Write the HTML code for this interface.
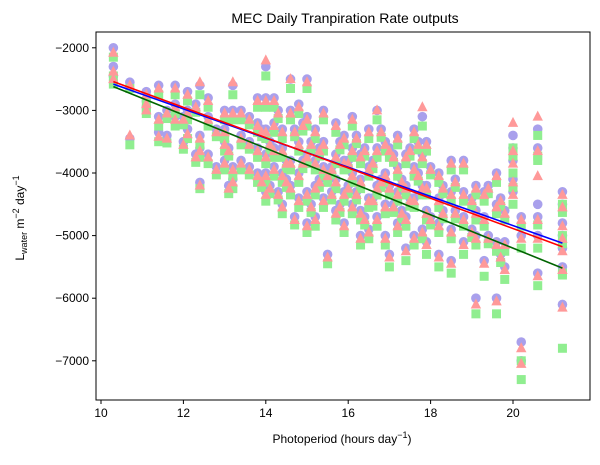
<!DOCTYPE html>
<html><head><meta charset="utf-8"><style>
body{margin:0;background:#fff;font-family:"Liberation Sans","DejaVu Sans",sans-serif}
svg text{font-family:"Liberation Sans","DejaVu Sans",sans-serif}
</style></head><body>
<svg id="chart" width="600" height="460" xmlns="http://www.w3.org/2000/svg">
<text x="345" y="23" font-size="14" text-anchor="middle">MEC Daily Tranpiration Rate outputs</text>
<text x="342" y="443" font-size="12" text-anchor="middle">Photoperiod (hours day<tspan dy="-5" font-size="9">−1</tspan><tspan dy="5">)</tspan></text>
<text transform="translate(24,218) rotate(-90)" font-size="12" text-anchor="middle">L<tspan dy="3" font-size="9">water</tspan><tspan dy="-3"> m</tspan><tspan dy="-5" font-size="9">−2</tspan><tspan dy="5"> day</tspan><tspan dy="-5" font-size="9">−1</tspan></text>
<g id="marks"></g>
<g id="axes"></g>
</svg>
<script>
const xVals=[10.3,10.3,10.7,10.7,11.1,11.1,11.4,11.4,11.4,11.8,11.8,11.8,12.1,12.1,12.1,12.4,12.4,12.4,12.4,12.6,12.6,12.6,13.0,13.0,13.0,13.0,13.2,13.2,13.2,13.2,13.4,13.4,13.4,13.8,13.8,13.8,13.8,14.0,14.0,14.0,14.0,14.0,14.0,14.2,14.2,14.2,14.2,14.4,14.4,14.4,14.4,14.6,14.6,14.6,14.6,14.8,14.8,14.8,14.8,15.0,15.0,15.0,15.0,15.0,15.2,15.2,15.2,15.2,15.4,15.4,15.4,15.4,15.5,15.5,15.7,15.7,15.7,15.7,15.9,15.9,15.9,15.9,16.1,16.1,16.1,16.1,16.3,16.3,16.3,16.3,16.5,16.5,16.5,16.5,16.7,16.7,16.7,16.7,16.9,16.9,16.9,16.9,17.0,17.0,17.0,17.2,17.2,17.2,17.2,17.4,17.4,17.4,17.4,17.6,17.6,17.6,17.6,17.8,17.8,17.8,17.8,17.9,17.9,17.9,17.9,18.2,18.2,18.2,18.2,18.5,18.5,18.5,18.5,18.8,18.8,18.8,18.8,19.1,19.1,19.1,19.1,19.3,19.3,19.3,19.6,19.6,19.6,19.6,19.8,19.8,19.8,20.0,20.0,20.0,20.2,20.2,20.2,20.2,20.6,20.6,20.6,20.6,21.2,21.2,21.2,21.2,
10.3,11.1,11.6,11.6,12.0,12.0,12.3,12.3,12.8,12.8,13.1,13.1,13.6,13.6,13.6,13.9,13.9,14.1,14.1,14.3,14.3,14.5,14.5,14.7,14.7,14.9,14.9,15.1,15.1,15.3,15.3,15.6,15.6,15.8,15.8,16.0,16.0,16.2,16.2,16.4,16.4,16.6,16.6,16.8,16.8,17.1,17.1,17.3,17.3,17.5,17.5,17.7,17.7,18.0,18.0,18.3,18.3,18.6,18.6,19.0,19.0,19.4,19.4,19.7,19.7,20.0,20.0,20.6,20.6,21.2,21.2,21.2];
const circleY=[-2000,-2300,-3450,-2550,-2700,-2950,-2600,-3100,-3350,-2600,-2900,-3100,-2700,-3000,-3300,-2600,-3400,-4150,-3600,-2800,-3100,-3700,-3000,-3300,-3500,-3800,-2600,-3000,-3900,-4100,-3000,-3400,-3800,-2800,-3200,-3600,-4000,-2300,-2800,-3300,-3700,-4000,-4300,-2800,-3200,-3600,-3900,-3300,-3600,-4000,-4500,-2500,-3000,-3800,-4200,-2900,-3500,-4000,-4400,-2500,-3100,-3700,-4300,-4800,-3300,-3800,-4200,-4700,-3000,-3500,-3900,-4400,-4000,-5300,-3200,-3700,-4100,-4600,-3400,-3800,-4300,-4800,-3100,-3600,-4000,-4500,-3700,-4100,-4600,-5000,-3300,-3900,-4400,-4900,-3000,-3600,-4200,-4700,-3500,-4000,-4500,-5000,-3600,-4200,-5300,-3400,-3900,-4300,-4800,-3700,-4200,-4700,-5200,-3300,-3900,-4400,-5000,-3100,-3700,-4200,-4900,-3500,-4200,-4600,-5100,-4000,-4400,-4800,-5300,-3800,-4300,-4900,-5400,-3800,-4300,-4700,-5100,-4200,-4600,-5000,-6000,-4300,-4700,-5400,-4000,-4500,-5100,-6000,-4600,-5100,-5500,-3400,-3800,-4300,-4700,-5000,-6700,-7000,-3300,-4500,-5000,-5600,-4300,-4800,-5200,-6100,
-2450,-2850,-3000,-3400,-3100,-3500,-2900,-3700,-3300,-3900,-3600,-4200,-3100,-3500,-3900,-3300,-4100,-3500,-4200,-3000,-4300,-3800,-4100,-3300,-4700,-3200,-3800,-3500,-4500,-3600,-4100,-3900,-4300,-3500,-4500,-3800,-4200,-3400,-4300,-3600,-4700,-3800,-4400,-3300,-4100,-3700,-4500,-4100,-4600,-3600,-4400,-3500,-4000,-3900,-4700,-4200,-4600,-4100,-4600,-4400,-4900,-4200,-5000,-4400,-5300,-3600,-4100,-3600,-4700,-4500,-5000,-5500];
const squareY=[-2150,-2450,-3550,-2650,-2850,-3050,-2750,-3250,-3500,-2750,-3050,-3250,-2850,-3150,-3450,-2750,-3550,-4250,-3750,-2950,-3250,-3850,-3150,-3450,-3650,-3950,-2750,-3150,-4050,-4250,-3150,-3550,-3950,-2950,-3350,-3750,-4150,-2450,-2950,-3450,-3850,-4150,-4450,-2950,-3350,-3750,-4050,-3450,-3750,-4150,-4650,-2650,-3150,-3950,-4350,-3050,-3650,-4150,-4550,-2650,-3250,-3850,-4450,-4950,-3450,-3950,-4350,-4850,-3150,-3650,-4050,-4550,-4150,-5450,-3350,-3850,-4250,-4750,-3550,-3950,-4450,-4950,-3250,-3750,-4150,-4650,-3850,-4250,-4750,-5150,-3450,-4050,-4550,-5050,-3150,-3750,-4350,-4850,-3650,-4150,-4650,-5150,-3750,-4350,-5500,-3550,-4050,-4450,-4950,-3850,-4350,-4850,-5400,-3450,-4050,-4550,-5150,-3250,-3850,-4350,-5050,-3650,-4350,-4750,-5300,-4150,-4550,-4950,-5500,-3950,-4450,-5050,-5600,-3950,-4450,-4850,-5300,-4350,-4750,-5150,-6250,-4450,-4850,-5650,-4150,-4650,-5250,-6250,-4750,-5250,-5700,-3600,-4000,-4500,-4850,-5200,-7000,-7300,-3400,-3800,-5200,-5800,-4500,-5000,-5600,-6800,
-2580,-2980,-3130,-3520,-3230,-3620,-3030,-3830,-3420,-4030,-3730,-4330,-3230,-3620,-4030,-3420,-4230,-3630,-4330,-3130,-4430,-3930,-4230,-3420,-4830,-3330,-3930,-3630,-4630,-3730,-4230,-4030,-4430,-3630,-4630,-3930,-4330,-3530,-4430,-3730,-4830,-3930,-4530,-3430,-4230,-3830,-4630,-4230,-4730,-3730,-4530,-3630,-4130,-4030,-4830,-4330,-4730,-4230,-4730,-4530,-5030,-4330,-5130,-4530,-5430,-3730,-4230,-3730,-4830,-4630,-5130,-5630];
const triangleY=[-2080,-2380,-3400,-2600,-2750,-3000,-2650,-3150,-3420,-2650,-2950,-3150,-2750,-3050,-3380,-2550,-3450,-4200,-3650,-2850,-3150,-3750,-3050,-3350,-3550,-3850,-2550,-3050,-3950,-4150,-3050,-3450,-3850,-2850,-3250,-3650,-4050,-2200,-2850,-3350,-3750,-4050,-4350,-2850,-3250,-3650,-3950,-3350,-3650,-4050,-4550,-2500,-3050,-3850,-4250,-2950,-3550,-4050,-4450,-2550,-3150,-3750,-4350,-4850,-3350,-3850,-4250,-4750,-3050,-3550,-3950,-4450,-4050,-5350,-3250,-3750,-4150,-4650,-3450,-3850,-4350,-4850,-3150,-3650,-4050,-4550,-3750,-4150,-4650,-5050,-3350,-3950,-4450,-4950,-3000,-3650,-4250,-4750,-3550,-4050,-4550,-5050,-3650,-4250,-5350,-3450,-3950,-4350,-4850,-3750,-4250,-4750,-5250,-3350,-3950,-4450,-5050,-2950,-3750,-4250,-4950,-3550,-4250,-4650,-5150,-4050,-4450,-4850,-5350,-3850,-4350,-4950,-5450,-3850,-4350,-4750,-5150,-4250,-4650,-5050,-6100,-4350,-4750,-5450,-4050,-4550,-5150,-6050,-4650,-5150,-5550,-3200,-3850,-4350,-4750,-5050,-6800,-7050,-3100,-4050,-5050,-5650,-4350,-4850,-5250,-6150,
-2500,-2900,-3050,-3450,-3150,-3550,-2950,-3750,-3350,-3950,-3650,-4250,-3150,-3550,-3950,-3350,-4150,-3550,-4250,-3050,-4350,-3850,-4150,-3350,-4750,-3250,-3850,-3550,-4550,-3650,-4150,-3950,-4350,-3550,-4550,-3850,-4250,-3450,-4350,-3650,-4750,-3850,-4450,-3350,-4150,-3750,-4550,-4150,-4650,-3650,-4450,-3550,-4050,-3950,-4750,-4250,-4650,-4150,-4650,-4450,-4950,-4250,-5050,-4450,-5350,-3650,-4150,-3650,-4750,-4550,-5050,-5550];
const fitNames=['fit-blue','fit-red','fit-green'];
const fitSlopes=[-233,-242,-266];
const fitIntercepts=[-180,-47,120];
const fitColors=['#0000ff','#ff0000','#006400'];
const xTicks=[10,12,14,16,18,20];
const yTicks=[-2000,-3000,-4000,-5000,-6000,-7000];

const NS='http://www.w3.org/2000/svg';
const L=96,R=590,T=32,B=400;
const xs=v=>101+(v-10)*41.2;
const ys=v=>173+(-4000-v)*0.0626;
const marks=document.getElementById('marks');
const axes=document.getElementById('axes');
function mk(tag,attrs,parent){const e=document.createElementNS(NS,tag);for(const k in attrs)e.setAttribute(k,attrs[k]);parent.appendChild(e);return e;}

for(let i=0;i<xVals.length;i++){
  const c=mk('circle',{cx:xs(xVals[i]),cy:ys(circleY[i]),r:4.8,fill:'#a9a0ec'},marks);
  
  
}
for(let i=0;i<xVals.length;i++){
  const x=xs(xVals[i]),y=ys(squareY[i]);
  const s=mk('rect',{x:x-4.5,y:y-4.5,width:9,height:9,fill:'#90ee90'},marks);
  
  
}
for(let i=0;i<xVals.length;i++){
  const x=xs(xVals[i]),y=ys(triangleY[i]);
  const t=mk('polygon',{points:`${x},${y-6} ${x-5.2},${y+4} ${x+5.2},${y+4}`,fill:'#ff9999'},marks);
  
  
}
for(let k=0;k<fitSlopes.length;k++){
  const f=x=>fitSlopes[k]*x+fitIntercepts[k];
  const ln=mk('line',{x1:xs(10.3),y1:ys(f(10.3)),x2:xs(21.2),y2:ys(f(21.2)),stroke:fitColors[k],'stroke-width':1.6},marks);
  
  
}
const frame=mk('rect',{x:L,y:T,width:R-L,height:B-T,fill:'none',stroke:'#000','stroke-width':1},axes);


xTicks.forEach(v=>{
  const x=xs(v);
  const t=mk('line',{x1:x,y1:B,x2:x,y2:B+4,stroke:'#000'},axes);
  
  
  const tx=mk('text',{x:x,y:B+17,'font-size':12,'text-anchor':'middle'},axes);
  tx.textContent=v;
  
  
});
yTicks.forEach(v=>{
  const y=ys(v);
  const t=mk('line',{x1:L-4,y1:y,x2:L,y2:y,stroke:'#000'},axes);
  
  
  const tx=mk('text',{x:L-7,y:y+4,'font-size':12,'text-anchor':'end'},axes);
  tx.textContent=String(v).replace('-','−');
  
  
});
</script>
</body></html>
